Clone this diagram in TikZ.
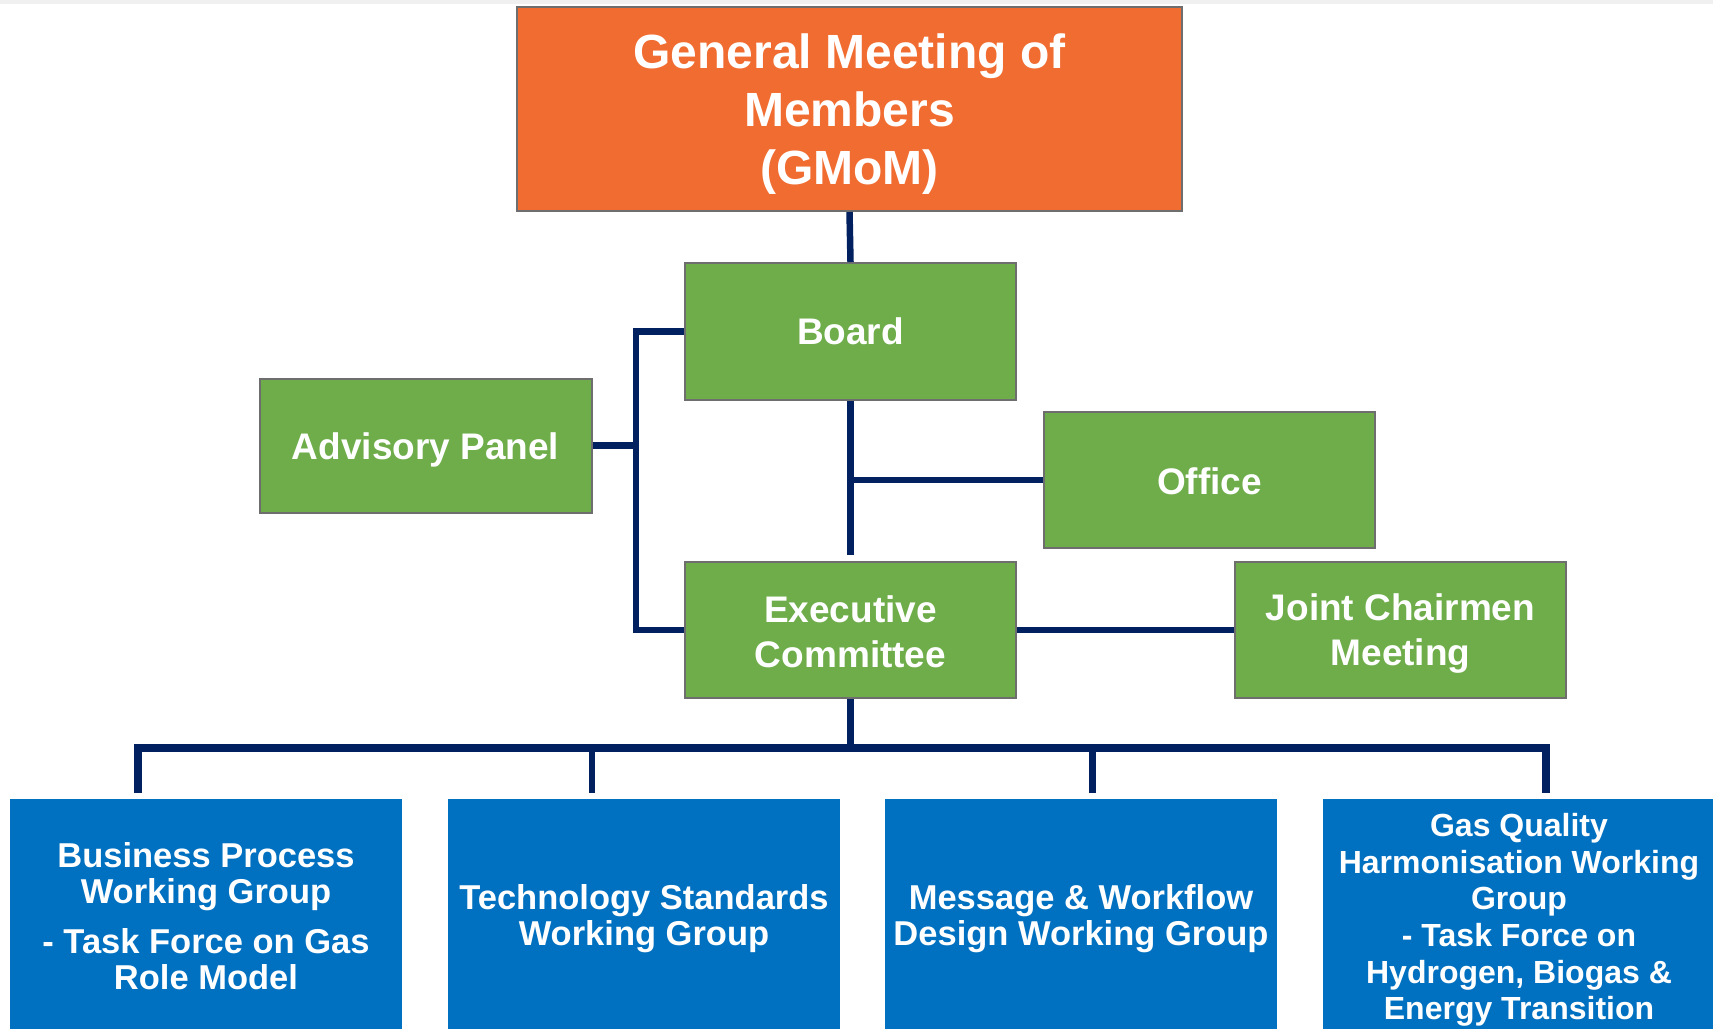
\documentclass[tikz,border=0pt]{standalone}
\usepackage{fontspec}
\setmainfont{Liberation Sans}
\definecolor{gmorange}{HTML}{F16C30}
\definecolor{gmgreen}{HTML}{6EAD4A}
\definecolor{gmblue}{HTML}{0070C0}
\definecolor{gmnavy}{HTML}{002060}
\definecolor{gmborder}{HTML}{6E6E6E}
\definecolor{gmband}{HTML}{F0F0F0}
\tikzset{
  topbox/.style={draw=gmborder, line width=2pt, fill=gmorange, inner sep=0pt,
    minimum width=665pt, minimum height=204pt},
  greenbox/.style={draw=gmborder, line width=2pt, fill=gmgreen, inner sep=0pt,
    minimum width=331pt, minimum height=136pt},
  bluebox/.style={fill=gmblue, inner sep=0pt,
    minimum width=392pt, minimum height=232pt},
  toptext/.style={text=white, inner sep=0pt, align=center,
    font=\bfseries\fontsize{48}{58}\selectfont},
  greentext/.style={text=white, inner sep=0pt, align=center,
    font=\bfseries\fontsize{37}{45}\selectfont},
  bluetext/.style={text=white, inner sep=0pt, align=center,
    font=\bfseries\fontsize{34.5}{36}\selectfont},
  bluetextsmall/.style={text=white, inner sep=0pt, align=center,
    font=\bfseries\fontsize{32}{36.7}\selectfont},
  conn/.style={draw=gmnavy, line width=6.5pt, line join=miter},
  busline/.style={draw=gmnavy, line width=7.5pt, line join=miter}
}
\begin{document}
\begin{tikzpicture}[x=1pt, y=-1pt]
\useasboundingbox (0,0) rectangle (1713,1028);
\fill[gmband] (0,0) rectangle (1713,4);

% boxes
\node[topbox] (gmom) at (849.5,109) {};
\node[greenbox, minimum height=137pt] (board) at (850.5,331.5) {};
\node[greenbox, minimum width=332pt, minimum height=134pt] (adv) at (425.5,445.5) {};
\node[greenbox] (exec) at (850.5,630) {};
\node[greenbox] (office) at (1209.5,480) {};
\node[greenbox] (joint) at (1400.5,630) {};
\node[bluebox] (bp) at (206,915) {};
\node[bluebox] (ts) at (644,915) {};
\node[bluebox] (mw) at (1081,915) {};
\node[bluebox] (gq) at (1519,915) {};

% texts
\node[toptext] (gmomtext) at ([yshift=-5pt]gmom.center) {General Meeting of\\Members\\(GMoM)};
\node[greentext] (boardtext) at (board.center) {Board};
\node[greentext] (advtext) at ([yshift=-4pt]adv.center) {Advisory Panel};
\node[greentext] (exectext) at ([yshift=-2pt]exec.center) {Executive\\Committee};
\node[greentext] (officetext) at ([yshift=-1pt]office.center) {Office};
\node[greentext] (jointtext) at ([yshift=-4pt]joint.center) {Joint Chairmen\\Meeting};
\node[bluetext] (bptext) at ([yshift=-1pt]bp.center) {Business Process\\Working Group\\[14pt]- Task Force on Gas\\Role Model};
\node[bluetext] (tstext) at ([yshift=-4pt]ts.center) {Technology Standards\\Working Group};
\node[bluetext] (mwtext) at ([yshift=-4pt]mw.center) {Message \& Workflow\\Design Working Group};
\node[bluetextsmall] (gqtext) at ([yshift=-5pt]gq.center) {Gas Quality\\Harmonisation Working\\Group\\- Task Force on\\Hydrogen, Biogas \&\\Energy Transition};

% coordinates
\coordinate (lb) at (636,445.5);
\coordinate (oj) at (850.5,480);
\coordinate (bus) at (850.5,748);
\coordinate (b1) at (138,748);
\coordinate (b2) at (592,748);
\coordinate (b3) at (1092.5,748);
\coordinate (b4) at (1546,748);
\coordinate (d1) at (138,793);
\coordinate (d2) at (592,793);
\coordinate (d3) at (1092.5,793);
\coordinate (d4) at (1546,793);

% connectors
\draw[conn] (gmom.south) -- (board.north);
\draw[conn] (board.south) -- ([yshift=6pt]exec.north);
\draw[conn] (board.west) -| (lb) |- (exec.west);
\draw[conn] (adv.east) -- (lb);
\draw[conn] (oj) -- (office.west);
\draw[conn] (exec.east) -- (joint.west);
\draw[conn] (exec.south) -- (bus);
\draw[busline] (d1) -- (b1) -- (b4) -- (d4);
\draw[conn] (b2) -- (d2);
\draw[conn] (b3) -- (d3);
\end{tikzpicture}
\end{document}
